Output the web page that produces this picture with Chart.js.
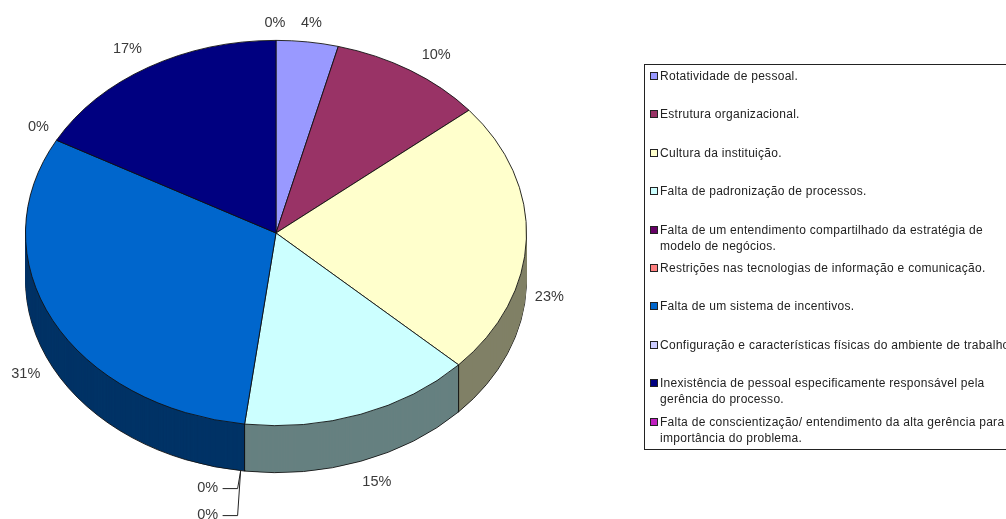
<!DOCTYPE html>
<html>
<head>
<meta charset="utf-8">
<script src="https://cdn.jsdelivr.net/npm/chart.js@4"></script>
<style>
  html, body { margin: 0; padding: 0; background: #fff; overflow: hidden; }
  #wrap { position: relative; width: 1006px; height: 519px; overflow: hidden; }
  #legend {
    position: absolute; left: 644px; top: 64px; width: 420px; height: 384px;
    border: 1px solid #222; box-sizing: content-box;
    font: 12px "Liberation Sans", Arial, sans-serif; letter-spacing: 0.28px; color: #222;
  }
  .row { position: absolute; left: 0; right: 0; height: 38.4px; line-height: 16px; padding-left: 15px; white-space: pre; }
  .swatch { position: absolute; left: 5px; top: 4px; width: 6px; height: 6px; border: 1px solid #222; }
</style>
</head>
<body>
<div id="wrap">
  <canvas id="pie" width="1006" height="519"></canvas>
  <div id="legend"></div>
</div>
<script>
const categorias = [
  'Rotatividade de pessoal.',
  'Estrutura organizacional.',
  'Cultura da instituição.',
  'Falta de padronização de processos.',
  'Falta de um entendimento compartilhado da estratégia de\nmodelo de negócios.',
  'Restrições nas tecnologias de informação e comunicação.',
  'Falta de um sistema de incentivos.',
  'Configuração e características físicas do ambiente de trabalho.',
  'Inexistência de pessoal especificamente responsável pela\ngerência do processo.',
  'Falta de conscientização/ entendimento da alta gerência para a\nimportância do problema.'
]
const valores = [4, 10, 23, 15, 0, 0, 31, 0, 17, 0]
const cores = ['#9999FF', '#993366', '#FFFFCC', '#CCFFFF', '#660066', '#FF8080', '#0066CC', '#CCCCFF', '#000080', '#C020C0']
const coresLado = ['#4D4D80', '#4D1A33', '#808066', '#668080', '#330033', '#804040', '#003366', '#666680', '#000040', '#601060']

// where each percent label sits relative to the rim point of its slice
const deslocLabel = [[4, -19], [26, -15], [23, 58], [16, 68], [-37, 64], [-37, 91], [-27, 54], [-18, -13], [-21, -18], [-1, -17]]
const comGuia = [4, 5]

const CENTRO_Y = 233
const ACHATA = 193 / 251
const PROFUNDIDADE = 47

const aplicaElipse = (ctx, arc, d) => {
  ctx.translate(0, CENTRO_Y + d)
  ctx.scale(1, ACHATA)
  ctx.translate(0, -arc.y)
}

// side wall of the pie plus the squashed top face
const pizza3d = {
  id: 'pizza3d',
  beforeDatasetDraw(chart) {
    const ctx = chart.ctx
    const arcos = chart.getDatasetMeta(0).data
    for (let d = PROFUNDIDADE; d >= 1; d--) {
      arcos.forEach((arc, i) => {
        if (valores[i] === 0) return
        const orig = arc.options
        arc.options = Object.create(orig, {
          backgroundColor: { value: coresLado[i] },
          borderColor: { value: '#111' },
          borderWidth: { value: d === PROFUNDIDADE ? 1 : 0 }
        })
        ctx.save()
        aplicaElipse(ctx, arc, d)
        arc.draw(ctx)
        ctx.restore()
        arc.options = orig
      })
    }
    // seams between the slices on the wall
    ctx.save()
    ctx.strokeStyle = '#111'
    ctx.lineWidth = 1
    arcos.forEach((arc, i) => {
      if (valores[i] === 0 || Math.sin(arc.endAngle) <= 0) return
      const x = arc.x + arc.outerRadius * Math.cos(arc.endAngle)
      const y = CENTRO_Y + arc.outerRadius * ACHATA * Math.sin(arc.endAngle)
      ctx.beginPath()
      ctx.moveTo(x, y)
      ctx.lineTo(x, y + PROFUNDIDADE)
      ctx.stroke()
    })
    ctx.restore()
    ctx.save()
    aplicaElipse(ctx, arcos[0], 0)
  },
  afterDatasetDraw(chart) {
    chart.ctx.restore()
  },
  afterDraw(chart) {
    const ctx = chart.ctx
    const arcos = chart.getDatasetMeta(0).data
    ctx.save()
    ctx.font = '14.5px "Liberation Sans", Arial, sans-serif'
    ctx.fillStyle = '#3a3a3a'
    ctx.textAlign = 'center'
    ctx.textBaseline = 'middle'
    arcos.forEach((arc, i) => {
      const meio = (arc.startAngle + arc.endAngle) / 2
      const bx = arc.x + arc.outerRadius * Math.cos(meio)
      const by = CENTRO_Y + arc.outerRadius * ACHATA * Math.sin(meio)
      const x = bx + deslocLabel[i][0]
      const y = by + deslocLabel[i][1]
      ctx.fillText(valores[i] + '%', x, y)
      if (comGuia.includes(i)) {
        ctx.strokeStyle = '#222'
        ctx.lineWidth = 1
        ctx.beginPath()
        ctx.moveTo(x + 15, y + 0.5)
        ctx.lineTo(bx - 7, y + 0.5)
        ctx.lineTo(bx - 4, by + PROFUNDIDADE)
        ctx.stroke()
      }
    })
    ctx.restore()
  }
}

new Chart(document.getElementById('pie'), {
  type: 'pie',
  data: {
    labels: categorias,
    datasets: [{
      data: valores,
      backgroundColor: cores,
      borderColor: '#111',
      borderWidth: 1,
      clip: false
    }]
  },
  options: {
    responsive: false,
    animation: false,
    layout: { padding: { left: 25, right: 479, top: 0, bottom: 17 } },
    plugins: { legend: { display: false }, tooltip: { enabled: false } }
  },
  plugins: [pizza3d]
})

// legend box, runs past the right edge of the page
const legenda = document.getElementById('legend')
categorias.forEach((texto, i) => {
  const row = document.createElement('div')
  row.className = 'row'
  row.style.top = (3 + i * 38.4) + 'px'
  row.textContent = texto
  const sw = document.createElement('span')
  sw.className = 'swatch'
  sw.style.background = cores[i]
  row.appendChild(sw)
  legenda.appendChild(row)
})
</script>
</body>
</html>
